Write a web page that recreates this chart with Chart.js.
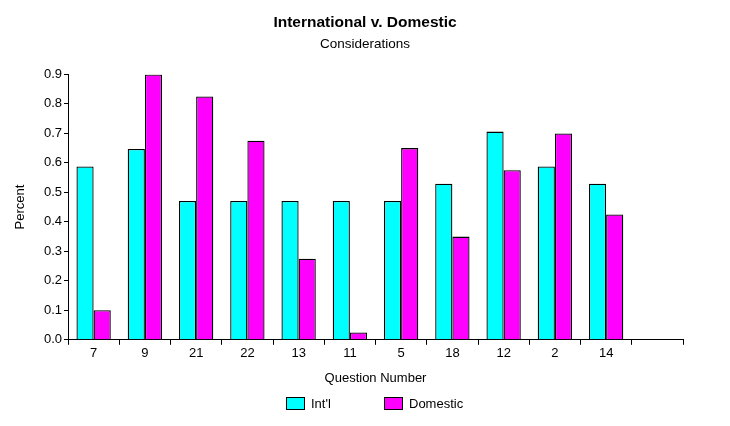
<!DOCTYPE html>
<html>
<head>
<meta charset="utf-8">
<script src="https://cdn.jsdelivr.net/npm/chart.js@4/dist/chart.umd.min.js"></script>
<style>
    html, body { margin: 0; padding: 0; background: #fff; }
    #wrap { width: 730px; height: 426px; }
</style>
</head>
<body>
<div id="wrap"><canvas id="chart"></canvas></div>
<script>
// Дані графіка
const questions = ['7', '9', '21', '22', '13', '11', '5', '18', '12', '2', '14', ''];
const intlValues = [0.588, 0.647, 0.471, 0.471, 0.471, 0.471, 0.471, 0.529, 0.706, 0.588, 0.529, null];
const domesticValues = [0.1, 0.9, 0.825, 0.675, 0.275, 0.025, 0.65, 0.35, 0.575, 0.7, 0.425, null];
const yTicks = [0, 0.1, 0.2, 0.3, 0.4, 0.5, 0.6, 0.7, 0.8, 0.9];

const FONT = 'Arial, "Liberation Sans", sans-serif';
Chart.defaults.font.family = FONT;
Chart.defaults.color = '#000';

// Легенда внизу, намальована вручну (потрібні великі проміжки між пунктами)
const bottomLegend = {
    id: 'bottomLegend',
    afterDraw(chart) {
        const ctx = chart.ctx;
        const y = 403;
        const positions = [286, 384];
        ctx.save();
        ctx.font = '13px ' + FONT;
        ctx.textBaseline = 'middle';
        ctx.textAlign = 'left';
        chart.data.datasets.forEach((ds, i) => {
            const x = positions[i];
            ctx.fillStyle = ds.backgroundColor;
            ctx.fillRect(x, y - 6, 19, 13);
            ctx.strokeStyle = '#000';
            ctx.lineWidth = 1;
            ctx.strokeRect(x + 0.5, y - 5.5, 18, 12);
            ctx.fillStyle = '#000';
            ctx.fillText(ds.label, x + 25, y + 1);
        });
        ctx.restore();
    }
};

const chart = new Chart(document.getElementById('chart'), {
    type: 'bar',
    data: {
        labels: questions,
        datasets: [{
            label: "Int'l",
            data: intlValues,
            backgroundColor: '#00ffff',
            borderColor: '#000',
            borderWidth: 1.3
        }, {
            label: 'Domestic',
            data: domesticValues,
            backgroundColor: '#ff00ff',
            borderColor: '#000',
            borderWidth: 1.3
        }]
    },
    options: {
        responsive: true,
        maintainAspectRatio: false,
        animation: false,
        categoryPercentage: 0.67,
        barPercentage: 1.0,
        layout: { padding: { left: 0, right: 0, top: 0, bottom: 34 } },
        plugins: {
            legend: { display: false },
            tooltip: { enabled: false },
            title: {
                display: true,
                text: 'International v. Domestic',
                font: { size: 15.5, weight: 'bold' },
                padding: { top: 13.5, bottom: 4.1 }
            },
            subtitle: {
                display: true,
                text: 'Considerations',
                font: { size: 13.5, weight: 'normal' },
                padding: { top: 0, bottom: 22 }
            }
        },
        scales: {
            x: {
                grid: { display: true, drawOnChartArea: false, offset: true, tickLength: 5, color: '#000' },
                border: { display: true, color: '#000' },
                ticks: { font: { size: 13 }, padding: 1, maxRotation: 0, autoSkip: false },
                title: {
                    display: true,
                    text: 'Question Number',
                    font: { size: 13 },
                    padding: { top: 8, bottom: 6 }
                }
            },
            y: {
                min: 0,
                max: 0.9,
                afterBuildTicks: scale => { scale.ticks = yTicks.map(v => ({ value: v })); },
                afterFit: scale => { scale.width = 68; },
                grid: { display: true, drawOnChartArea: false, tickLength: 4, color: '#000' },
                border: { display: true, color: '#000' },
                ticks: { font: { size: 13 }, padding: 2, callback: v => v.toFixed(1) },
                title: {
                    display: true,
                    text: 'Percent',
                    font: { size: 13 },
                    padding: { top: 13, bottom: 0 }
                }
            },
            yRight: {
                position: 'right',
                display: true,
                grid: { display: false },
                border: { display: false },
                ticks: { display: false },
                afterFit: scale => { scale.width = 47; }
            }
        }
    },
    plugins: [bottomLegend]
});
</script>
</body>
</html>
